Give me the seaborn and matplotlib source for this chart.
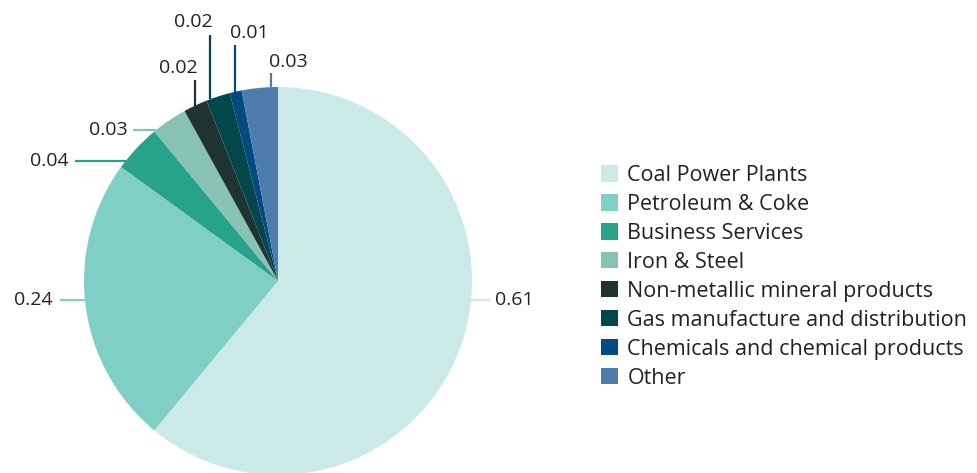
import matplotlib
matplotlib.use("Agg")
import matplotlib.pyplot as plt
from matplotlib.patches import Patch
import numpy as np
import seaborn as sns

# Emission shares by source
categories = [
    "Coal Power Plants",
    "Petroleum & Coke",
    "Business Services",
    "Iron & Steel",
    "Non-metallic mineral products",
    "Gas manufacture and distribution",
    "Chemicals and chemical products",
    "Other",
]
shares = [0.61, 0.24, 0.04, 0.03, 0.02, 0.02, 0.01, 0.03]
value_labels = ["0.61", "0.24", "0.04", "0.03", "0.02", "0.02", "0.01", "0.03"]

colors = ["#CBE9E7", "#80CFC7", "#26A38A", "#87C2B3",
          "#1F3333", "#03474D", "#034A80", "#4F7DAB"]

sns.set_theme(style="white")
palette = sns.color_palette(colors)
plt.rcParams["font.family"] = ["Open Sans", "DejaVu Sans"]
TEXT = "#222222"
FS = 14
LEG_FS = 15.5

W, H = 977, 473
fig = plt.figure(figsize=(W / 100, H / 100), dpi=100)

# pie geometry in pixels (center and radius)
cx, cy, R = 278, 281, 194
ax = fig.add_axes([(cx - R) / W, (H - cy - R) / H, 2 * R / W, 2 * R / H])
ax.pie(shares, colors=palette, startangle=90, counterclock=False,
       radius=1.0, wedgeprops=dict(linewidth=0))
ax.set_xlim(-1, 1)
ax.set_ylim(-1, 1)
ax.set_aspect("equal")
ax.axis("off")


def px(x, y):
    """pixel position -> pie data units"""
    return (x - cx) / R, (cy - y) / R


# label layout: side, leader line coordinate, line end, text position
layout = [
    ("right", 300, 490, (495, 300)),
    ("left", 300, 60, (53, 300)),
    ("left", 161, 75, (69, 161)),
    ("left", 130, 133, (128, 130)),
    ("up", 195, 80, (178, 68)),
    ("up", 210, 35, (193, 22)),
    ("up", 235, 45, (249, 33)),
    ("up", 271, 73, (288, 62)),
]

for lab, col, (side, c, end, tpos) in zip(value_labels, palette, layout):
    if side in ("left", "right"):
        _, y = px(0, c)
        xe = np.sqrt(max(1 - y ** 2, 0)) * (1 if side == "right" else -1)
        x1, _ = px(end, 0)
        ax.plot([xe, x1], [y, y], color=col, lw=1.6, clip_on=False,
                solid_capstyle="butt")
        ha = "left" if side == "right" else "right"
    else:
        x, _ = px(c, 0)
        ye = np.sqrt(max(1 - x ** 2, 0))
        _, y1 = px(0, end)
        ax.plot([x, x], [ye, y1], color=col, lw=1.6, clip_on=False,
                solid_capstyle="butt")
        ha = "center"
    tx, ty = px(*tpos)
    ax.text(tx, ty, lab, ha=ha, va="center", fontsize=FS, color=TEXT,
            clip_on=False)

handles = [Patch(facecolor=c, edgecolor="none") for c in palette]
fig.legend(handles, categories, loc="upper left",
           bbox_to_anchor=(601 / W, 1 - 165 / H), frameon=False,
           fontsize=LEG_FS, labelcolor=TEXT, handlelength=0.78,
           handleheight=0.78, handletextpad=0.45, labelspacing=0.37,
           borderaxespad=0, borderpad=0)

fig.savefig("out.png", dpi=100, facecolor="white")
